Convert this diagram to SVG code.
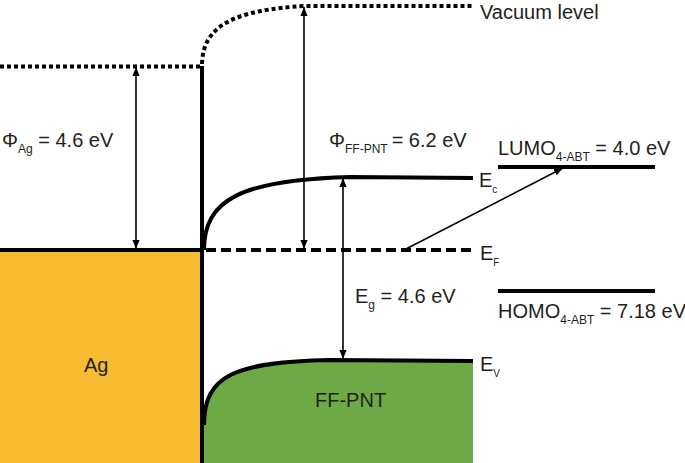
<svg xmlns="http://www.w3.org/2000/svg" width="685" height="463" viewBox="0 0 685 463">
<defs>
<marker id="ah" viewBox="0 0 10 8" refX="10" refY="4" markerWidth="9" markerHeight="7.5" markerUnits="userSpaceOnUse" orient="auto-start-reverse">
<path d="M0,0 L10,4 L0,8 Z" fill="#000"/>
</marker>
<style>
text{font-family:"Liberation Sans",Arial,sans-serif;fill:#231f20;font-size:20px}
.sub{font-size:12px}
.sm{font-size:10px}
.thick{fill:none;stroke:#000;stroke-width:4}
.dot{fill:none;stroke:#000;stroke-width:4;stroke-dasharray:4 3}
.dash{fill:none;stroke:#000;stroke-width:4;stroke-dasharray:10 5}
.arr{fill:none;stroke:#000;stroke-width:1.6;marker-end:url(#ah)}
.arr2{fill:none;stroke:#000;stroke-width:1.6;marker-end:url(#ah);marker-start:url(#ah)}
</style>
</defs>
<rect width="685" height="463" fill="#fff"/>
<g id="ag">
<rect x="0" y="250" width="202" height="213" fill="#F6BB31"/>
<line class="thick" x1="0" y1="250" x2="202" y2="250"/>
<text x="84" y="372">Ag</text>
</g>
<g id="ffpnt">
<path d="M204,425 C204,375 235,362 330,360 L473,361 L473,463 L204,463 Z" fill="#6DAA45"/>
<path class="thick" d="M204,425 C204,375 235,362 330,360 L473,361"/>
<path class="thick" d="M204,250 C204,200 240,180 350,177 L473,178"/>
<text x="315" y="407">FF-PNT</text>
</g>
<g id="interface">
<line x1="202" y1="66" x2="202" y2="463" stroke="#000" stroke-width="4"/>
</g>
<g id="vacuum">
<path class="dot" d="M0,66.5 L200,66.5"/>
<path class="dot" d="M202,64 C203,25 235,10 305,6 L473,6"/>
<text x="480" y="19">Vacuum level</text>
</g>
<g id="fermi">
<path class="dash" d="M206,250 L473,250"/>
<text x="480" y="260">E<tspan class="sm" dy="6">F</tspan></text>
</g>
<g id="ec-label"><text x="479" y="187">E<tspan class="sm" dy="6">c</tspan></text></g>
<g id="ev-label"><text x="480" y="371">E<tspan class="sm" dy="6">V</tspan></text></g>
<g id="lumo">
<line class="thick" x1="498" y1="167" x2="655" y2="167"/>
<text x="498" y="155">LUMO<tspan class="sub" dy="6">4-ABT</tspan><tspan dy="-6"> = 4.0 eV</tspan></text>
</g>
<g id="homo">
<line class="thick" x1="498" y1="291" x2="655" y2="291"/>
<text x="498" y="318">HOMO<tspan class="sub" dy="6">4-ABT</tspan><tspan dy="-6"> = 7.18 eV</tspan></text>
</g>
<g id="labels">
<text x="2" y="147">Φ<tspan class="sub" dy="6">Ag</tspan><tspan dy="-6"> = 4.6 eV</tspan></text>
<text x="329" y="147">Φ<tspan class="sub" dy="6">FF-PNT</tspan><tspan dy="-6" dx="4">= 6.2 eV</tspan></text>
<text x="355" y="303">E<tspan class="sub" dy="6">g</tspan><tspan dy="-6"> = 4.6 eV</tspan></text>
</g>
<g id="connectors">
<line class="arr2" x1="136" y1="67" x2="136" y2="249"/>
<line class="arr2" x1="304" y1="7" x2="304" y2="249"/>
<line class="arr2" x1="343" y1="178" x2="343" y2="359"/>
<line class="arr" x1="404" y1="250" x2="563" y2="168"/>
</g>
</svg>
